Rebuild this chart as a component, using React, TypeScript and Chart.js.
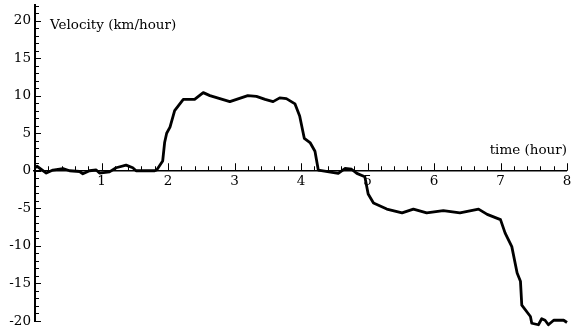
import React, { useEffect, useRef } from "react";
import { Chart, registerables } from "chart.js";

Chart.register(...registerables);

// time (hour)
const times: number[] = [
  0.0, 0.03, 0.17, 0.27, 0.42, 0.52, 0.67, 0.72, 0.82, 0.92, 0.97, 1.12, 1.22, 1.37, 1.47, 1.52,
  1.8, 1.83, 1.92, 1.95, 1.98, 2.03, 2.1, 2.23, 2.4, 2.53, 2.63, 2.93, 3.2, 3.33, 3.46, 3.58,
  3.68, 3.78, 3.91, 3.98, 4.05, 4.14, 4.21, 4.26, 4.56, 4.66, 4.76, 4.84, 4.96, 5.01, 5.09,
  5.29, 5.52, 5.69, 5.89, 6.14, 6.39, 6.67, 6.8, 7.0, 7.07, 7.17, 7.25, 7.3, 7.32, 7.45, 7.47,
  7.57, 7.62, 7.67, 7.72, 7.8, 7.95, 8.0,
];
// velocity (km/hour)
const velocities: number[] = [
  0.4, 0.6, -0.3, 0.1, 0.3, 0.0, -0.1, -0.4, 0.0, 0.1, -0.3, -0.15, 0.4, 0.75, 0.4, 0.0,
  0.0, 0.1, 1.3, 3.8, 5.0, 5.8, 8.0, 9.5, 9.5, 10.4, 10.0, 9.2, 10.0, 9.9, 9.5, 9.2,
  9.7, 9.6, 8.9, 7.3, 4.3, 3.7, 2.6, 0.1, -0.35, 0.3, 0.2, -0.35, -0.8, -3.1, -4.3,
  -5.1, -5.6, -5.1, -5.6, -5.3, -5.6, -5.1, -5.8, -6.5, -8.3, -10.1, -13.6, -14.7, -17.9, -19.4, -20.3,
  -20.5, -19.7, -19.9, -20.5, -19.9, -19.9, -20.2,
];

const xLabelTicks: number[] = [1, 2, 3, 4, 5, 6, 7, 8];
const yLabelTicks: number[] = [-20, -15, -10, -5, 0, 5, 10, 15, 20];
const xMinorStep = 0.2;
const yMinorStep = 1;
const xMin = 0;
const xMax = 8;
const yMin = -20;
const yMax = 22.2;
const yAxisTitle = "Velocity (km/hour)";
const xAxisTitle = "time (hour)";

const FONT = "13.5px 'DejaVu Serif', serif";

const axesPlugin = {
  id: "mathAxes",
  beforeDatasetsDraw(chart: any) {
    const ctx: CanvasRenderingContext2D = chart.ctx;
    const xs = chart.scales.x;
    const ys = chart.scales.y;
    const x0 = xs.getPixelForValue(0);
    const y0 = ys.getPixelForValue(0);
    ctx.save();
    ctx.strokeStyle = "#000";
    ctx.fillStyle = "#000";

    // x axis line
    ctx.lineWidth = 1.3;
    ctx.beginPath();
    ctx.moveTo(x0 - 2, y0);
    ctx.lineTo(xs.getPixelForValue(xMax), y0);
    ctx.stroke();

    // x ticks (pointing up)
    ctx.lineWidth = 1;
    const nx = Math.round((xMax - xMin) / xMinorStep);
    for (let i = 1; i <= nx; i++) {
      const v = xMin + i * xMinorStep;
      const major = Math.abs(v - Math.round(v)) < 1e-6;
      const px = Math.round(xs.getPixelForValue(v)) + 0.5;
      ctx.beginPath();
      ctx.moveTo(px, y0);
      ctx.lineTo(px, y0 - (major ? 7.5 : 4.5));
      ctx.stroke();
    }

    // y axis line
    ctx.lineWidth = 2;
    ctx.beginPath();
    ctx.moveTo(x0, ys.getPixelForValue(yMin) + 1);
    ctx.lineTo(x0, ys.getPixelForValue(yMax));
    ctx.stroke();

    // y ticks (pointing right)
    ctx.lineWidth = 1;
    for (let v = yMin; v <= yMax + 1e-6; v += yMinorStep) {
      const major = Math.abs(v % 5) < 1e-6;
      const py = Math.round(ys.getPixelForValue(v)) + 0.5;
      ctx.beginPath();
      ctx.moveTo(x0, py);
      ctx.lineTo(x0 + (major ? 6 : 4), py);
      ctx.stroke();
    }

    // labels
    ctx.font = FONT;
    ctx.textAlign = "center";
    ctx.textBaseline = "middle";
    for (const v of xLabelTicks) {
      ctx.fillText(String(v), xs.getPixelForValue(v), y0 + 11);
    }
    ctx.textAlign = "right";
    for (const v of yLabelTicks) {
      ctx.fillText(String(v), x0 - 4, ys.getPixelForValue(v));
    }

    // axis titles
    ctx.textAlign = "left";
    ctx.fillText(yAxisTitle, x0 + 15, ys.getPixelForValue(yMax) + 21);
    ctx.textAlign = "right";
    ctx.fillText(xAxisTitle, xs.getPixelForValue(xMax), y0 - 20);
    ctx.restore();
  },
};

export default function App() {
  const ref = useRef<HTMLCanvasElement | null>(null);
  useEffect(() => {
    if (!ref.current) return;
    const chart = new Chart(ref.current, {
      type: "line",
      data: {
        datasets: [
          {
            data: times.map((t, i) => ({ x: t, y: velocities[i] })),
            borderColor: "#000",
            borderWidth: 2.8,
            pointRadius: 0,
            tension: 0,
            fill: false,
            clip: false as any,
            borderJoinStyle: "round",
          },
        ],
      },
      options: {
        animation: false,
        responsive: false,
        devicePixelRatio: 1,
        layout: { padding: { left: 35, right: 4, top: 4, bottom: 12 } },
        plugins: { legend: { display: false }, tooltip: { enabled: false } },
        scales: {
          x: { type: "linear", min: xMin, max: xMax, display: false },
          y: { type: "linear", min: yMin, max: yMax, display: false },
        },
      },
      plugins: [axesPlugin],
    });
    return () => chart.destroy();
  }, []);
  return (
    <div style={{ position: "absolute", left: 0, top: 0, width: 571, height: 333, background: "#fff" }}>
      <canvas ref={ref} width={571} height={333} />
    </div>
  );
}
